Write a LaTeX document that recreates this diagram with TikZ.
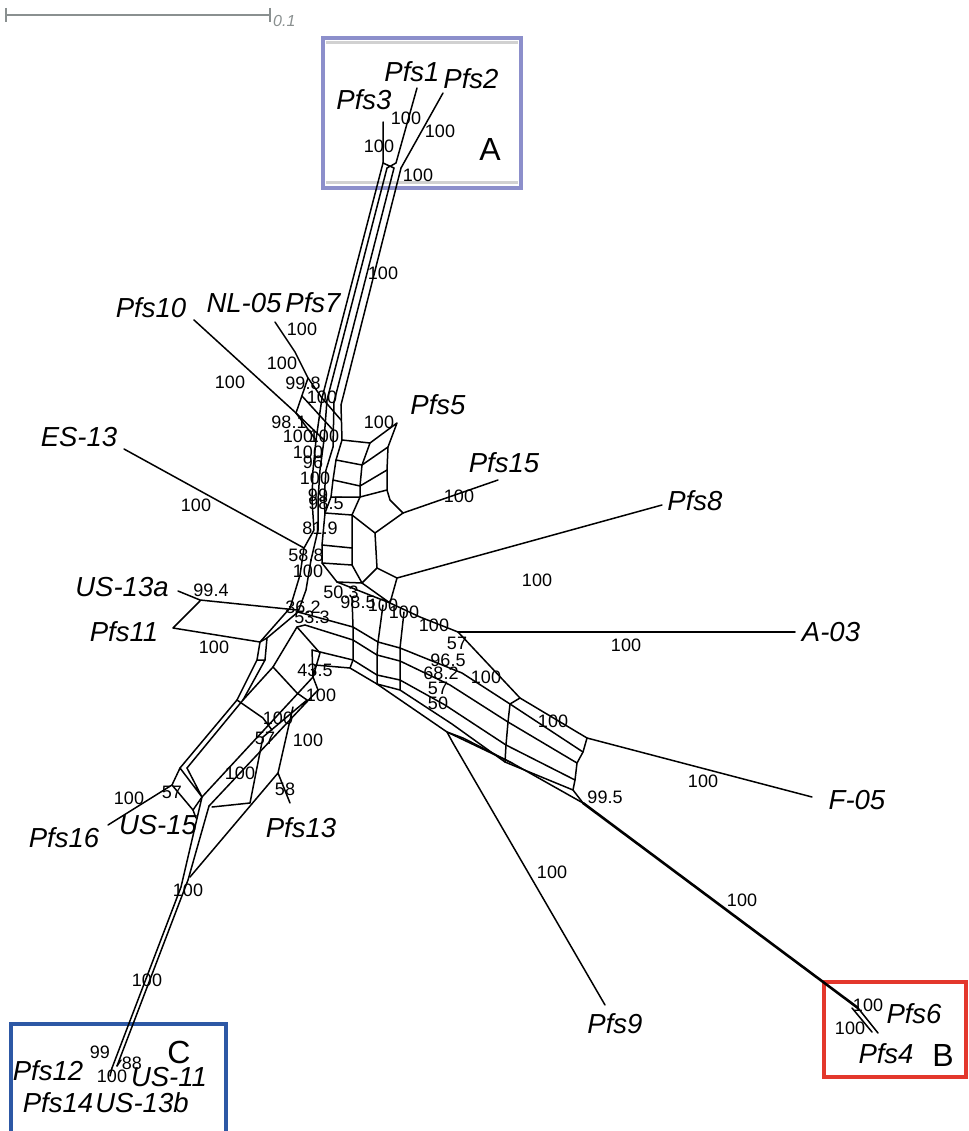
\documentclass[tikz,border=0pt]{standalone}
\usepackage{fontspec}
\setmainfont{Liberation Sans}
\usepackage{xcolor}
\definecolor{boxA}{HTML}{8C8FCB}
\definecolor{boxB}{HTML}{E3372C}
\definecolor{boxC}{HTML}{2D58A5}
\definecolor{barg}{HTML}{8A9090}
\usetikzlibrary{positioning}

\begin{document}
\begin{tikzpicture}[x=1pt,y=-1pt,
  net/.style={line width=1.5pt,line join=round,line cap=round},
  taxon/.style={font=\fontsize{27.5}{27.5}\selectfont\itshape,inner sep=0pt},
  bs/.style={font=\fontsize{18}{18}\selectfont,inner sep=0pt},
  grp/.style={font=\fontsize{32}{32}\selectfont,inner sep=0pt},
  frame/.style={line width=3.5pt}
]
\useasboundingbox (0,0) rectangle (968,1131);

% scale bar
\draw[barg,line width=1.6pt] (6,15) -- (270,15) (6,8) -- (6,22) (270,8) -- (270,22);
\node[font=\fontsize{16}{16}\selectfont\itshape,text=barg,anchor=west,inner sep=0pt] (scale) at (273,21) {0.1};

% group frames
\draw[black!18,line width=3pt] (326,43) -- (518,43) (326,183) -- (518,183);
\draw[frame,boxA] (323,38) rectangle (521,188);
\draw[frame,boxB] (824,982) rectangle (966,1077);
\draw[frame,boxC] (11,1024) rectangle (226,1140);

% clade A and the long stem
\draw[net] (383,122) -- (383,163) (417,88) -- (396,163) (443,93) -- (401,168);
\draw[net] (383,163) -- (394,168) (396,163) -- (387,168);
\draw[net] (383,163) -- (322,398) (387,168) -- (327,400) (394,168) -- (334,402) (401,168) -- (341,405);

% NL-05, Pfs7, Pfs10 lattice
\draw[net] (275,322) -- (295,352) -- (308,378) -- (322,398);
\draw[net] (194,320) -- (296,413) -- (316,440);
\draw[net] (308,378) -- (296,413);
\draw[net] (296,413) -- (324,440) (302,396) -- (333,430) (322,398) -- (341,420);
\draw[net] (322,398) -- (316,440) (327,400) -- (324,440) (334,402) -- (333,447) (341,405) -- (342,440);

% upper cells
\draw[net] (316,440) -- (313,470) -- (312,500) -- (314,530) -- (304,548) -- (300,575) -- (290,608);
\draw[net] (324,440) -- (320,470) -- (318,500) -- (318,530) -- (311,560) -- (306,590) -- (298,612);
\draw[net] (333,447) -- (326,470) -- (324,500) -- (325,513);
\draw[net] (342,440) -- (336,460) -- (333,480) -- (331,497) -- (325,513) -- (322,545) -- (322,563) -- (337,582) -- (362,583);
\draw[net] (325,513) -- (352,515) -- (352,565) -- (322,563) (322,545) -- (352,548);
\draw[net] (342,440) -- (370,443) -- (362,465) -- (360,486) -- (360,497) -- (352,515);
\draw[net] (336,460) -- (362,465) (333,480) -- (360,486) (331,497) -- (360,497);
\draw[net] (370,443) -- (397,423) -- (388,447) -- (387,470) -- (387,490) -- (390,500) -- (403,513);
\draw[net] (362,465) -- (388,447) (360,486) -- (387,470) (360,497) -- (387,490);
\draw[net] (352,515) -- (375,533) -- (403,513);
\draw[net] (375,533) -- (377,568) -- (362,583) (352,565) -- (362,583);
\draw[net] (377,568) -- (397,578) -- (390,603) -- (362,583);
\draw[net] (403,513) -- (498,480);
\draw[net] (397,578) -- (662,505);
\draw[net] (124,449) -- (304,548);

% lower right band
\draw[net] (337,582) -- (390,603) -- (420,617) -- (458,632) -- (520,698) -- (587,738);
\draw[net] (298,612) -- (353,627) -- (378,642) -- (400,648) -- (462,673) -- (510,704) -- (583,752);
\draw[net] (305,625) -- (353,640) -- (377,655) -- (400,661) -- (450,685) -- (508,722) -- (577,763);
\draw[net] (312,650) -- (353,660) -- (377,675) -- (400,680) -- (445,705) -- (506,745) -- (575,780);
\draw[net] (315,665) -- (350,668) -- (377,684) -- (400,690) -- (452,724) -- (505,762) -- (573,790);
\draw[net] (352,597) -- (353,627) -- (353,640) -- (353,660) -- (350,668);
\draw[net] (383,605) -- (378,642) -- (377,655) -- (377,675) -- (377,684);
\draw[net] (404,612) -- (400,648) -- (400,661) -- (400,680) -- (400,690);
\draw[net] (520,698) -- (510,704) -- (508,722) -- (506,745) -- (505,762);
\draw[net] (587,738) -- (583,752) -- (577,763) -- (575,780) -- (573,790) -- (583,803);
\draw[net] (458,632) -- (795,632);
\draw[net] (587,738) -- (812,797);
\draw[net] (377,684) -- (447,732) -- (512,763) -- (583,803);
\draw[net] (447,732) -- (463,738) -- (512,763) (447,732) -- (453,743);
\draw[net] (453,743) -- (605,1005);
\draw[net,line width=2.6pt] (583,803) -- (858,1008);
\draw[net] (858,1008) -- (878,1033) (852,1008) -- (872,1032);

% US-13a, Pfs11 and lower left band
\draw[net] (178,591) -- (200,600) -- (297,610) (200,601) -- (173,628) -- (260,642);
\draw[net] (260,642) -- (267,638) -- (265,660) -- (257,660) -- cycle;
\draw[net] (267,638) -- (298,612) (260,642) -- (290,608);
\draw[net] (257,660) -- (237,700) -- (180,768) (265,660) -- (243,700) -- (187,768);
\draw[net] (305,625) -- (297,627) -- (273,667) -- (243,700);
\draw[net] (237,700) -- (263,718) -- (272,730);
\draw[net] (273,667) -- (297,693) -- (307,700);
\draw[net] (297,627) -- (320,653) -- (313,677) -- (312,650);
\draw[net] (313,677) -- (202,797) (318,690) -- (209,806) (307,700) -- (263,737);
\draw[net] (313,677) -- (318,690);
\draw[net] (180,768) -- (172,785) -- (193,810) -- (202,797) -- (187,768) (180,768) -- (202,797);
\draw[net] (108,825) -- (172,785);
\draw[net] (193,810) -- (196,818);

% Pfs13 and stem to clade C
\draw[net] (290,803) -- (278,773) -- (293,707) (278,773) -- (190,877);
\draw[net] (250,803) -- (263,737) (250,803) -- (212,807);
\draw[net] (202,797) -- (181,887) -- (112,1068) (209,806) -- (188,880) -- (117,1066);
\draw[net] (112,1068) -- (110,1076) (117,1066) -- (121,1060);

% taxa
\node[taxon] (pfs3) at (364,100) {Pfs3};
\node[taxon] (pfs1) at (412,72) {Pfs1};
\node[taxon] (pfs2) at (471,79) {Pfs2};
\node[grp] (grpA) at (490,149) {A};
\node[taxon] (nl05) at (244,303) {NL-05};
\node[taxon] (pfs7) at (313,303) {Pfs7};
\node[taxon] (pfs10) at (151,308) {Pfs10};
\node[taxon] (es13) at (79,437) {ES-13};
\node[taxon] (pfs5) at (438,405) {Pfs5};
\node[taxon] (pfs15) at (504,463) {Pfs15};
\node[taxon] (pfs8) at (695,501) {Pfs8};
\node[taxon] (us13a) at (122,587) {US-13a};
\node[taxon] (pfs11) at (124,632) {Pfs11};
\node[taxon] (a03) at (831,632) {A-03};
\node[taxon] (f05) at (857,800) {F-05};
\node[taxon] (pfs16) at (64,838) {Pfs16};
\node[taxon] (us15) at (158,825) {US-15};
\node[taxon] (pfs13) at (301,828) {Pfs13};
\node[taxon] (pfs9) at (615,1024) {Pfs9};
\node[taxon] (pfs6) at (914,1014) {Pfs6};
\node[taxon] (pfs4) at (886,1054) {Pfs4};
\node[grp] (grpB) at (943,1055) {B};
\node[taxon] (pfs12) at (48,1071) {Pfs12};
\node[taxon] (us11) at (169,1077) {US-11};
\node[taxon] (pfs14) at (58,1103) {Pfs14};
\node[taxon] (us13b) at (142,1103) {US-13b};
\node[grp] (grpC) at (179,1052) {C};

% split support
\node[bs] (b01) at (379,146) {100};
\node[bs] (b02) at (406,118) {100};
\node[bs] (b03) at (440,131) {100};
\node[bs] (b04) at (418,175) {100};
\node[bs] (b05) at (383,273) {100};
\node[bs] (b06) at (302,329) {100};
\node[bs] (b07) at (282,363) {100};
\node[bs] (b08) at (303,383) {99.8};
\node[bs] (b09) at (322,397) {100};
\node[bs] (b10) at (230,382) {100};
\node[bs] (b11) at (289,422) {98.1};
\node[bs] (b12) at (298,436) {100};
\node[bs] (b13) at (324,436) {100};
\node[bs] (b14) at (308,452) {100};
\node[bs] (b15) at (313,462) {96};
\node[bs] (b16) at (315,478) {100};
\node[bs] (b17) at (318,495) {99};
\node[bs] (b18) at (326,503) {98.5};
\node[bs] (b19) at (320,528) {81.9};
\node[bs] (b20) at (306,555) {58.8};
\node[bs] (b21) at (308,571) {100};
\node[bs] (b22) at (211,590) {99.4};
\node[bs] (b23) at (214,647) {100};
\node[bs] (b24) at (303,607) {36.2};
\node[bs] (b25) at (312,617) {53.3};
\node[bs] (b26) at (341,592) {50.3};
\node[bs] (b27) at (358,602) {98.5};
\node[bs] (b28) at (383,605) {100};
\node[bs] (b29) at (404,612) {100};
\node[bs] (b30) at (434,625) {100};
\node[bs] (b31) at (457,643) {57};
\node[bs] (b32) at (448,660) {96.5};
\node[bs] (b33) at (441,673) {68.2};
\node[bs] (b34) at (486,677) {100};
\node[bs] (b35) at (438,688) {57};
\node[bs] (b36) at (438,703) {50};
\node[bs] (b37) at (553,721) {100};
\node[bs] (b38) at (605,797) {99.5};
\node[bs] (b39) at (379,422) {100};
\node[bs] (b40) at (459,496) {100};
\node[bs] (b41) at (537,580) {100};
\node[bs] (b42) at (626,645) {100};
\node[bs] (b43) at (703,781) {100};
\node[bs] (b44) at (742,900) {100};
\node[bs] (b45) at (552,872) {100};
\node[bs] (b46) at (196,505) {100};
\node[bs] (b47) at (315,670) {43.5};
\node[bs] (b48) at (321,695) {100};
\node[bs] (b49) at (278,718) {100};
\node[bs] (b50) at (265,738) {57};
\node[bs] (b51) at (308,740) {100};
\node[bs] (b52) at (240,773) {100};
\node[bs] (b53) at (285,789) {58};
\node[bs] (b54) at (172,792) {57};
\node[bs] (b55) at (129,798) {100};
\node[bs] (b56) at (188,890) {100};
\node[bs] (b57) at (147,980) {100};
\node[bs] (b58) at (100,1052) {99};
\node[bs] (b59) at (132,1063) {88};
\node[bs] (b60) at (112,1076) {100};
\node[bs] (b61) at (868,1005) {100};
\node[bs] (b62) at (850,1028) {100};
\end{tikzpicture}
\end{document}
